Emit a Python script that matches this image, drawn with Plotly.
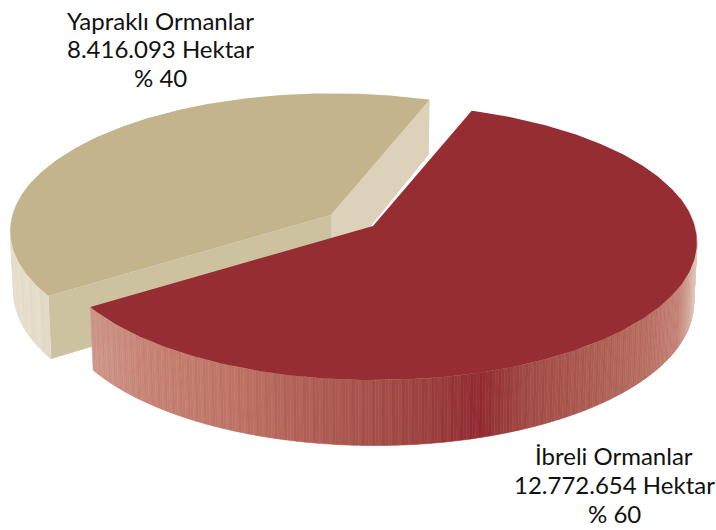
import numpy as np
import plotly.graph_objects as go

# --- data ---
categories = ["Yapraklı Ormanlar", "İbreli Ormanlar"]
hectares = ["8.416.093 Hektar", "12.772.654 Hektar"]
percents = [40, 60]
percent_labels = ["% 40", "% 60"]

# --- styling / scene ---
TAN_TOP, TAN_FRONT, TAN_BACK, TAN_SIDE = "#C3B48C", "#CDC29F", "#DDD2B9", "#E3DAC6"
RED_TOP = "#952D33"
START = 70.0
A, B, K, M, H = 320.0, 136.0, 0.1176, -0.005, 60.0
TAN_APEX = (331.0, 215.0)
RED_APEX = (373.0, 226.0)


def top(apex, deg):
    t = np.radians(deg)
    u, v = np.cos(t), np.sin(t)
    w = 1 + K * v + M * u
    return apex[0] + A * u / w, apex[1] - B * v / w


def bottom(apex, deg):
    x, y = top(apex, deg)
    v = np.sin(np.radians(deg))
    return apex[0] + (x - apex[0]) * 0.99, y + H * (1 - 0.09 * v)


def poly(xs, ys, color, lw=0.0):
    return go.Scatter(x=list(xs) + [xs[0]], y=list(ys) + [ys[0]], mode="lines", fill="toself",
                      fillcolor=color, line=dict(color=color, width=lw), hoverinfo="skip",
                      showlegend=False)


def shade(stops_x, stops_rgb, x, delta=0):
    s = np.array(stops_rgb, float)
    c = [np.interp(x, stops_x, s[:, i]) + delta for i in range(3)]
    return "rgb(%d,%d,%d)" % tuple(int(np.clip(v, 0, 255)) for v in c)


def strips(apex, a0, a1, n, stops_x, stops_rgb, streak):
    out = []
    d = np.linspace(a0, a1, n + 1)
    for i in range(n):
        x0, y0 = top(apex, d[i])
        x1, y1 = top(apex, d[i + 1])
        x2, y2 = bottom(apex, d[i + 1])
        x3, y3 = bottom(apex, d[i])
        delta = streak * (1 if i % 3 == 0 else (-1 if i % 3 == 1 else 0))
        col = shade(stops_x, stops_rgb, (x0 + x1) / 2, delta)
        out.append(poly([x0, x1, x2, x3], [y0, y1, y2, y3], col, 0.6))
    return out


tan_end = START + 360 * percents[0] / sum(percents)
red_end = START - 360 * percents[1] / sum(percents)

fig = go.Figure()

# tan slice: cut faces, outer wall, top
sx, sy = top(TAN_APEX, START)
bx, by = bottom(TAN_APEX, START)
fig.add_trace(poly([TAN_APEX[0], sx, bx, TAN_APEX[0]], [TAN_APEX[1], sy, by, TAN_APEX[1] + H], TAN_BACK))
ex, ey = top(TAN_APEX, tan_end)
fx, fy = bottom(TAN_APEX, tan_end)
fig.add_trace(poly([TAN_APEX[0], ex, fx, TAN_APEX[0]], [TAN_APEX[1], ey, fy, TAN_APEX[1] + H], TAN_FRONT))
fig.add_traces(strips(TAN_APEX, 165, tan_end, 30, [0, 60], [(232, 224, 208), (226, 217, 197)], 2))
deg = np.linspace(START, tan_end, 180)
pts = [top(TAN_APEX, a) for a in deg]
fig.add_trace(poly([TAN_APEX[0]] + [p[0] for p in pts], [TAN_APEX[1]] + [p[1] for p in pts], TAN_TOP))

# red slice: outer wall, top
red_x = [90, 150, 230, 300, 370, 430, 480, 530, 590, 650, 680, 692, 697]
red_rgb = [(206, 150, 136), (198, 130, 116), (190, 116, 102), (178, 98, 88), (166, 82, 76),
           (156, 64, 64), (146, 44, 50), (162, 76, 70), (172, 92, 82), (184, 110, 98),
           (196, 130, 118), (214, 172, 160), (226, 200, 190)]
fig.add_traces(strips(RED_APEX, red_end, 12, 300, red_x, red_rgb, 3))
deg = np.linspace(START, red_end, 260)
pts = [top(RED_APEX, a) for a in deg]
fig.add_trace(poly([RED_APEX[0]] + [p[0] for p in pts], [RED_APEX[1]] + [p[1] for p in pts], RED_TOP))

# labels
label_x = [160, 614]
label_y = [[20, 48, 77], [455, 484, 513]]
anns = []
for i in range(2):
    for txt, y in zip([categories[i], hectares[i], percent_labels[i]], label_y[i]):
        anns.append(dict(x=label_x[i], y=y, text=txt, showarrow=False, xanchor="center", yanchor="middle",
                         font=dict(family="Lato, sans-serif", size=24, color="#111111")))

fig.update_layout(
    width=716, height=530, margin=dict(l=0, r=0, t=0, b=0), autosize=False,
    paper_bgcolor="white", plot_bgcolor="white", showlegend=False, annotations=anns,
    xaxis=dict(range=[0, 716], visible=False, fixedrange=True),
    yaxis=dict(range=[530, 0], visible=False, fixedrange=True),
)
fig.write_html("out.html", config=dict(displayModeBar=False),
               post_script="document.body.style.margin='0';document.documentElement.style.overflow='hidden';")
